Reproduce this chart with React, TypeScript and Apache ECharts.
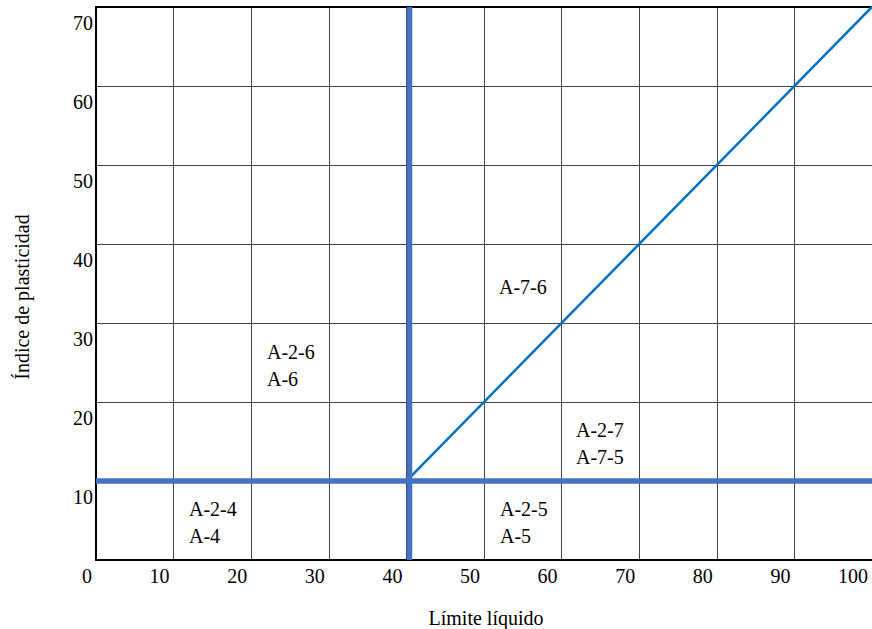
import React, { useEffect, useRef } from "react";
import * as echarts from "echarts";

const xTicks = [0, 10, 20, 30, 40, 50, 60, 70, 80, 90, 100];
const yTicks = [0, 10, 20, 30, 40, 50, 60, 70];
const llBoundary = [[40.4, 0], [40.4, 70]];
const piBoundary = [[0, 10], [100, 10]];
const diagonal = [[40.4, 10.4], [100, 70]];
const regionLabels: [number, number, string][] = [
  [12.0, 4.75, "A-2-4\nA-4"],
  [52.1, 4.75, "A-2-5\nA-5"],
  [22.1, 24.6, "A-2-6\nA-6"],
  [51.9, 34.5, "A-7-6"],
  [61.9, 14.7, "A-2-7\nA-7-5"],
];

const FONT = "'Liberation Serif', 'Times New Roman', serif";

export default function App() {
  const ref = useRef<HTMLDivElement>(null);
  useEffect(() => {
    if (!ref.current) return;
    const chart = echarts.init(ref.current, undefined, { renderer: "svg" });
    const textGraphic = (x: number, y: number, text: string, extra: any = {}) => ({
      type: "text",
      x,
      y,
      ...extra,
      style: {
        text,
        fontFamily: FONT,
        fontSize: 20,
        fill: "#000",
        align: "center",
        verticalAlign: "middle",
        ...(extra.style || {}),
      },
    });
    const baseGraphics = [
      textGraphic(22, 297, "Índice de plasticidad", { rotation: Math.PI / 2 }),
      textGraphic(486, 618, "Límite líquido"),
    ];
    chart.setOption({
      animation: false,
      backgroundColor: "#fff",
      textStyle: { fontFamily: FONT, fontSize: 20, color: "#000" },
      grid: { left: 96, top: 7, bottom: 69, right: -4, containLabel: false },
      xAxis: [
        {
          type: "value",
          min: 0,
          max: 100,
          interval: 10,
          axisLine: { show: true, lineStyle: { color: "#000", width: 2 } },
          axisTick: { show: false },
          splitLine: { show: true, lineStyle: { color: "#444", width: 1 } },
          axisLabel: {
            show: true,
            fontFamily: FONT,
            fontSize: 20,
            color: "#000",
            align: "right",
            margin: 6,
            padding: [0, 4, 0, 0],
            customValues: xTicks,
          },
        },
        {
          type: "value",
          position: "top",
          min: 0,
          max: 100,
          axisLine: { show: true, lineStyle: { color: "#000", width: 2 } },
          axisTick: { show: false },
          axisLabel: { show: false },
          splitLine: { show: false },
        },
      ],
      yAxis: {
        type: "value",
        min: 0,
        max: 70,
        interval: 10,
        axisLine: { show: true, lineStyle: { color: "#000", width: 2 } },
        axisTick: { show: false },
        splitLine: { show: true, lineStyle: { color: "#444", width: 1 } },
        axisLabel: {
          show: true,
          fontFamily: FONT,
          fontSize: 20,
          color: "#000",
          margin: 3,
          verticalAlign: "top",
          padding: [6, 0, 0, 0],
          customValues: yTicks.filter((v) => v > 0),
        },
      },
      graphic: baseGraphics,
      series: [
        {
          type: "line",
          data: diagonal,
          symbol: "none",
          lineStyle: { color: "#0070C0", width: 2.5 },
          z: 3,
        },
        {
          type: "line",
          data: llBoundary,
          symbol: "none",
          lineStyle: { color: "#4472C4", width: 5.5 },
          z: 4,
        },
        {
          type: "line",
          data: piBoundary,
          symbol: "none",
          lineStyle: { color: "#4472C4", width: 5.5 },
          z: 4,
        },
      ],
    });
    const regionGraphics: any[] = [];
    regionLabels.forEach(([x, y, text]) => {
      const [px, py] = chart.convertToPixel({ gridIndex: 0 }, [x, y]) as number[];
      const lines = text.split("\n");
      const top = py - ((lines.length - 1) * 27) / 2;
      lines.forEach((line, i) => {
        regionGraphics.push(
          textGraphic(Math.round(px), Math.round(top + i * 27), line, { style: { align: "left" }, z: 10 })
        );
      });
    });
    chart.setOption({ graphic: [...baseGraphics, ...regionGraphics] });
    return () => chart.dispose();
  }, []);
  return <div ref={ref} style={{ width: 872, height: 629, position: "absolute", left: 0, top: 0 }} />;
}
